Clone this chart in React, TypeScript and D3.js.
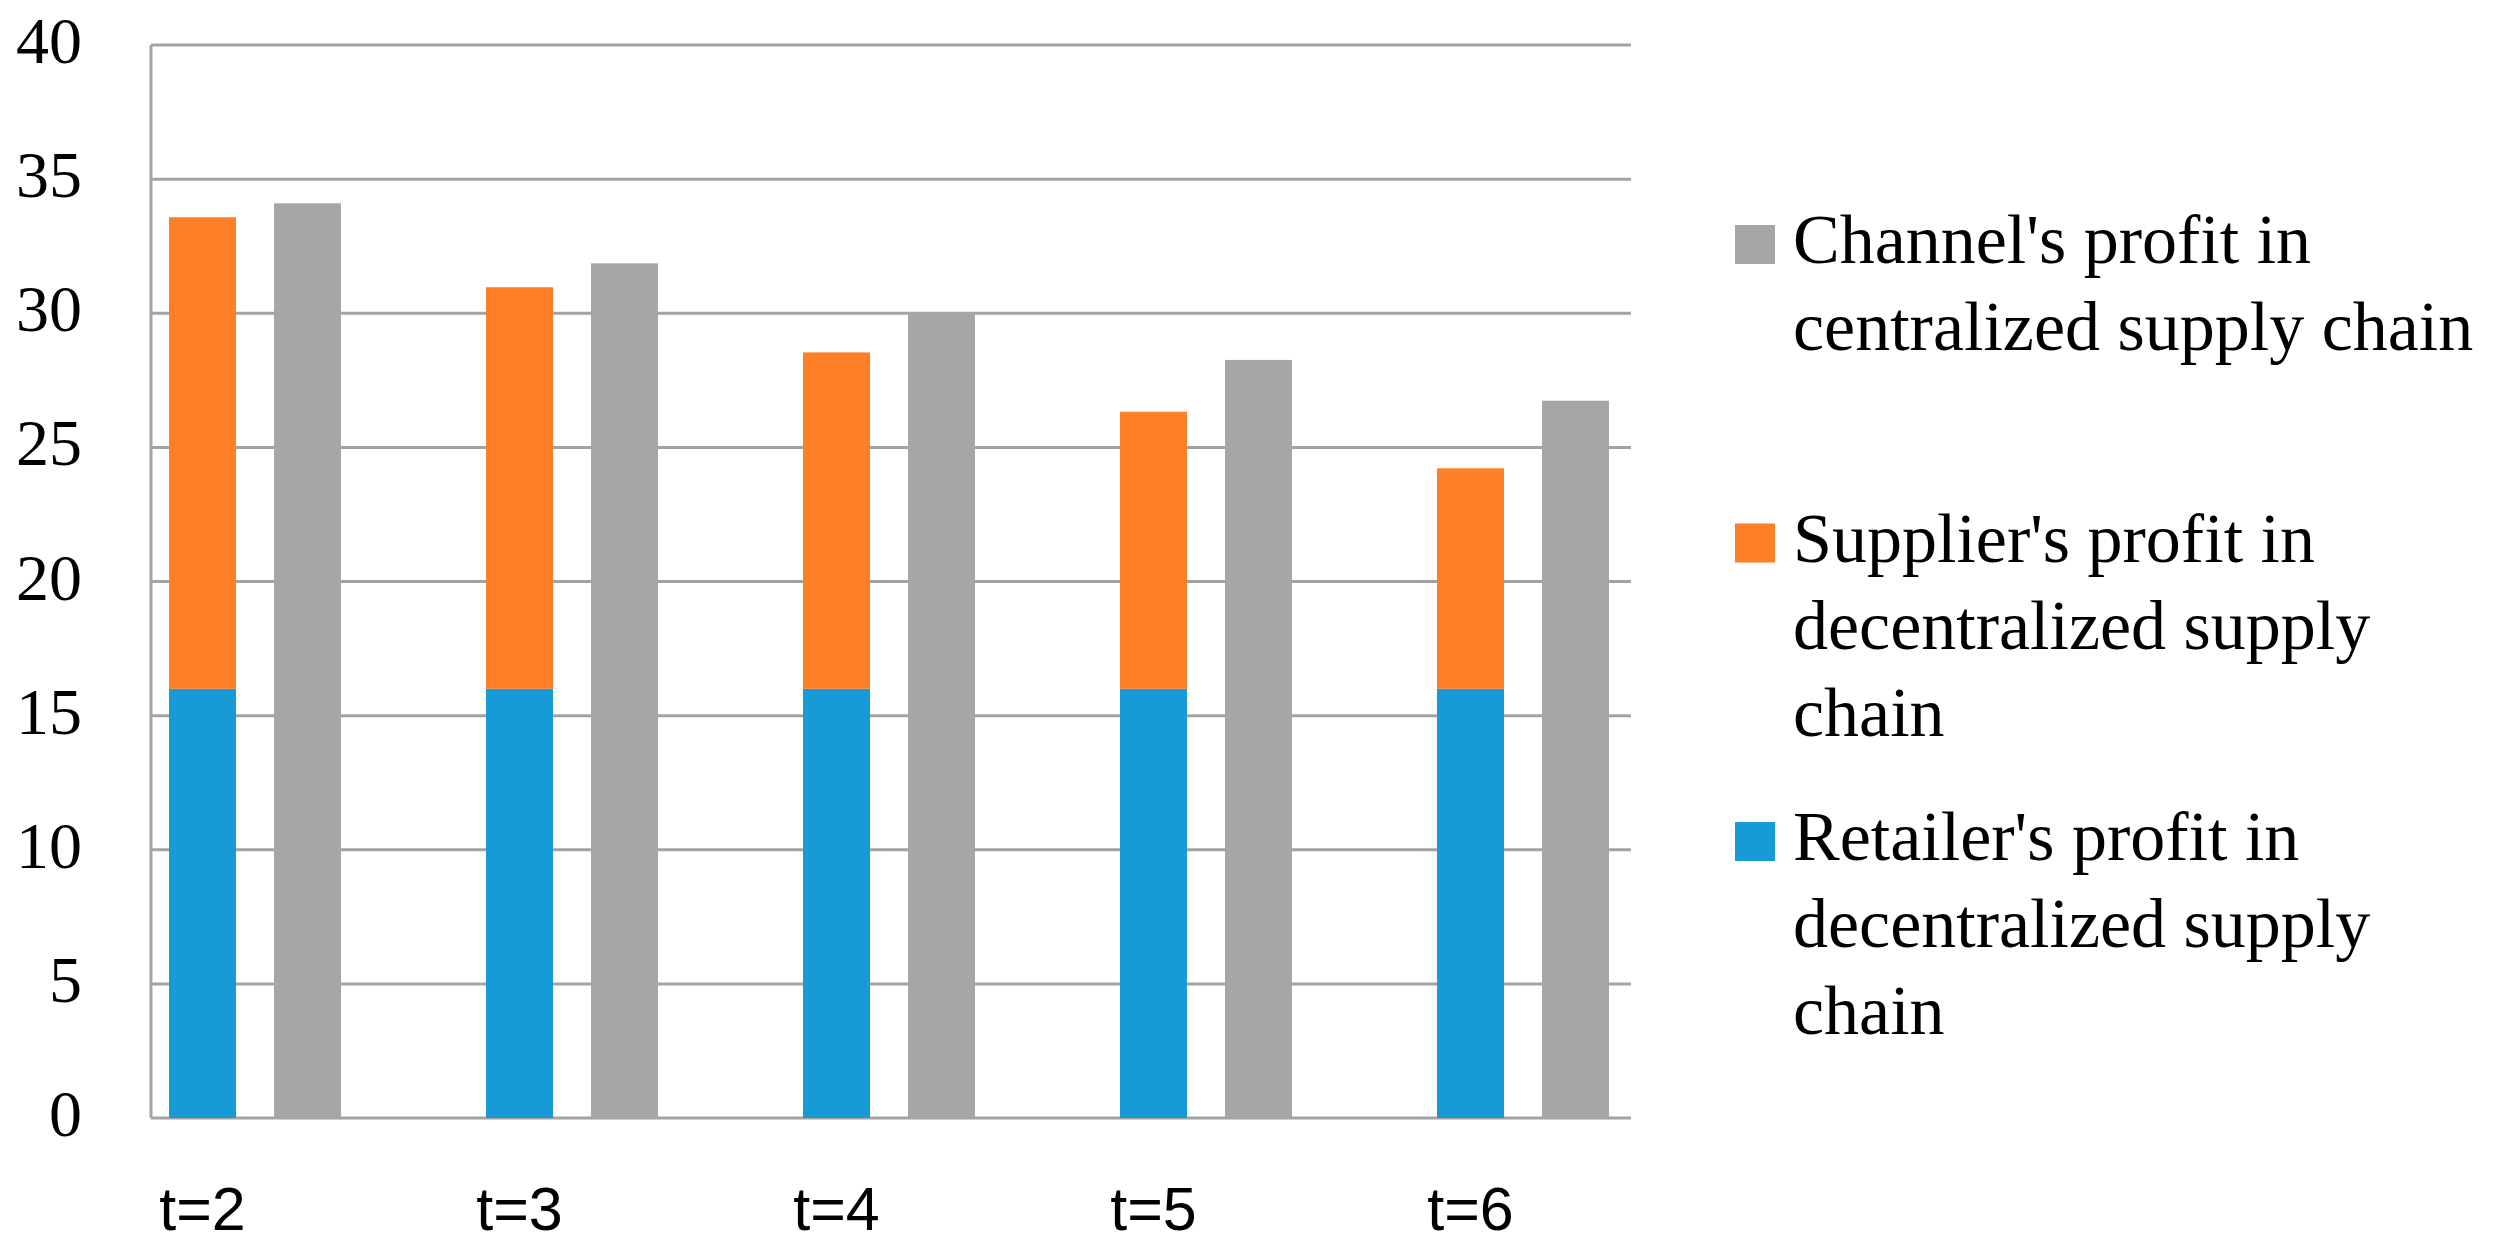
import * as d3 from "d3";

const categories = ["t=2", "t=3", "t=4", "t=5", "t=6"];
const retailerProfit = [16, 16, 16, 16, 16];
const supplierProfit = [17.58, 14.97, 12.54, 10.33, 8.22];
const channelProfit = [34.1, 31.86, 30.0, 28.26, 26.74];
const yTicks = [0, 5, 10, 15, 20, 25, 30, 35, 40];

const legendItems = [
  { color: "#a6a6a6", lines: ["Channel's profit in", "centralized supply chain"] },
  { color: "#ff7f27", lines: ["Supplier's profit in", "decentralized supply", "chain"] },
  { color: "#179bd7", lines: ["Retailer's profit in", "decentralized supply", "chain"] },
];

const width = 2509;
const height = 1248;
const plotLeft = 151;
const plotRight = 1631;
const plotTop = 45;
const plotBottom = 1118;
const font = "'Liberation Serif', 'Times New Roman', serif";
const sansFont = "'Liberation Sans', Arial, sans-serif";

export default function App() {
  const y = d3.scaleLinear().domain([0, 40]).range([plotBottom, plotTop]);
  const x = d3
    .scaleBand<string>()
    .domain(categories)
    .range([169, 169 + 317 * categories.length])
    .paddingInner(0)
    .paddingOuter(0)
    .align(0);
  const inner = d3
    .scaleBand<string>()
    .domain(["decentralized", "centralized"])
    .range([0, 172])
    .paddingInner(0.362)
    .paddingOuter(0);

  const rows = categories.map((c, i) => ({
    category: c,
    retailer: retailerProfit[i],
    supplier: supplierProfit[i],
  }));
  const stacked = d3.stack<(typeof rows)[number]>().keys(["retailer", "supplier"])(rows);
  const stackColors: Record<string, string> = { retailer: "#179bd7", supplier: "#ff7f27" };

  const grid = "#a3a3a3";

  return (
    <div style={{ position: "absolute", left: 0, top: 0 }}>
      <svg width={width} height={height} style={{ display: "block", background: "#fff" }}>
        {/* gridlines */}
        {yTicks.map((t) => (
          <line
            key={t}
            x1={plotLeft}
            x2={plotRight}
            y1={y(t)}
            y2={y(t)}
            stroke={grid}
            strokeWidth={3}
          />
        ))}
        <line x1={plotLeft} x2={plotLeft} y1={plotTop} y2={plotBottom} stroke={grid} strokeWidth={3} />

        {/* y tick labels */}
        {yTicks.map((t) => (
          <text
            key={t}
            x={82}
            y={y(t) + 18}
            textAnchor="end"
            fontFamily={font}
            fontSize={66}
            fill="#000"
          >
            {t}
          </text>
        ))}

        {/* stacked decentralized bars */}
        {stacked.map((layer) =>
          layer.map((d) => (
            <rect
              key={`${layer.key}-${d.data.category}`}
              x={(x(d.data.category) ?? 0) + (inner("decentralized") ?? 0)}
              y={y(d[1])}
              width={inner.bandwidth()}
              height={y(d[0]) - y(d[1])}
              fill={stackColors[layer.key]}
            />
          ))
        )}

        {/* centralized bars */}
        {categories.map((c, i) => (
          <rect
            key={`ch-${c}`}
            x={(x(c) ?? 0) + (inner("centralized") ?? 0)}
            y={y(channelProfit[i])}
            width={inner.bandwidth()}
            height={y(0) - y(channelProfit[i])}
            fill="#a6a6a6"
          />
        ))}

        {/* x labels */}
        {categories.map((c) => (
          <text
            key={`xl-${c}`}
            x={(x(c) ?? 0) + (inner("decentralized") ?? 0) + inner.bandwidth() / 2}
            y={1230}
            textAnchor="middle"
            fontFamily={sansFont}
            fontSize={61}
            fill="#000"
          >
            {c}
          </text>
        ))}

        {/* legend */}
        {legendItems.map((item, i) => {
          const base = 263 + i * 298.5;
          return (
            <g key={item.color}>
              <rect x={1735} y={base - 38} width={40} height={39} fill={item.color} />
              {item.lines.map((line, j) => (
                <text
                  key={j}
                  x={1793}
                  y={base + j * 87}
                  fontFamily={font}
                  fontSize={70}
                  fill="#000"
                >
                  {line}
                </text>
              ))}
            </g>
          );
        })}
      </svg>
    </div>
  );
}
